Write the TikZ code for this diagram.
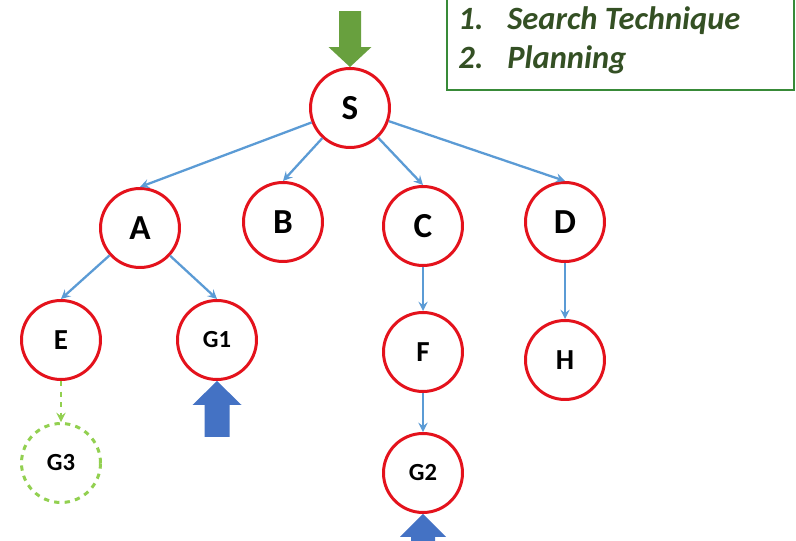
\documentclass[tikz,border=0pt]{standalone}
\usepackage{fontspec}
\setmainfont{Carlito}
\definecolor{nodered}{RGB}{228,18,28}
\definecolor{edgeblue}{RGB}{91,155,213}
\definecolor{markblue}{RGB}{68,114,196}
\definecolor{startgreen}{RGB}{104,160,62}
\definecolor{goalgreen}{RGB}{146,208,80}
\definecolor{boxgreen}{RGB}{56,138,56}
\definecolor{textgreen}{RGB}{52,80,36}

\begin{document}
\begin{tikzpicture}[
		state/.style={circle,draw=nodered,line width=1.7pt,fill=white,minimum size=1.58cm,inner sep=0pt,font=\bfseries},
		big/.style={font=\fontsize{20}{20}\selectfont\bfseries},
		mid/.style={font=\fontsize{16.5}{16.5}\selectfont\bfseries},
		small/.style={font=\fontsize{14}{14}\selectfont\bfseries},
		edge/.style={->,>=stealth,draw=edgeblue,line width=1.3pt},
		listitem/.style={anchor=base west,inner sep=0pt,text=textgreen,font=\fontsize{18.5}{18.5}\selectfont\bfseries\itshape}
	]
		\clip (0,0) rectangle (15.92,10.82);
		\fill[white] (0,0) rectangle (15.92,10.82);

		\draw[boxgreen,line width=1.4pt] (8.94,9.02) rectangle (15.88,11.3);
		\node[listitem] (n1) at (9.16,10.22) {1.};
		\node[listitem] (t1) at (10.14,10.22) {Search Technique};
		\node[listitem] (n2) at (9.16,9.44) {2.};
		\node[listitem] (t2) at (10.14,9.44) {Planning};

		\node[state,big] (S) at (7.00,8.66) {S};
		\node[state,big] (A) at (2.80,6.26) {A};
		\node[state,big] (B) at (5.66,6.38) {B};
		\node[state,big] (C) at (8.46,6.30) {C};
		\node[state,big] (D) at (11.30,6.38) {D};
		\node[state,mid] (E) at (1.22,4.02) {E};
		\node[state,small] (G1) at (4.34,4.02) {G1};
		\node[state,mid] (F) at (8.46,3.78) {F};
		\node[state,mid] (H) at (11.30,3.62) {H};
		\node[state,small] (G2) at (8.46,1.36) {G2};
		\node[state,small,draw=goalgreen,dashed] (G3) at (1.22,1.56) {G3};

		\draw[edge] (S) -- (A.north);
		\draw[edge] (S) -- (B.north);
		\draw[edge] (S) -- (C.north);
		\draw[edge] (S) -- (D.north);
		\draw[edge] (A) -- (E.north);
		\draw[edge] (A) -- (G1.north);
		\draw[edge] (C) -- (F);
		\draw[edge] (F) -- (G2);
		\draw[edge] (D) -- (H);
		\draw[edge,draw=goalgreen,dashed] (E) -- (G3);

		\fill[startgreen] (S.north) -- ++(0.43,0.40) -- ++(-0.21,0) -- ++(0,0.72)
			-- ++(-0.44,0) -- ++(0,-0.72) -- ++(-0.21,0) -- cycle;
		\fill[markblue] (G1.south) -- ++(0.49,-0.48) -- ++(-0.24,0) -- ++(0,-0.64)
			-- ++(-0.50,0) -- ++(0,0.64) -- ++(-0.24,0) -- cycle;
		\fill[markblue] (G2.south) -- ++(0.46,-0.46) -- ++(-0.22,0) -- ++(0,-0.6)
			-- ++(-0.48,0) -- ++(0,0.6) -- ++(-0.22,0) -- cycle;
	\end{tikzpicture}
\end{document}
